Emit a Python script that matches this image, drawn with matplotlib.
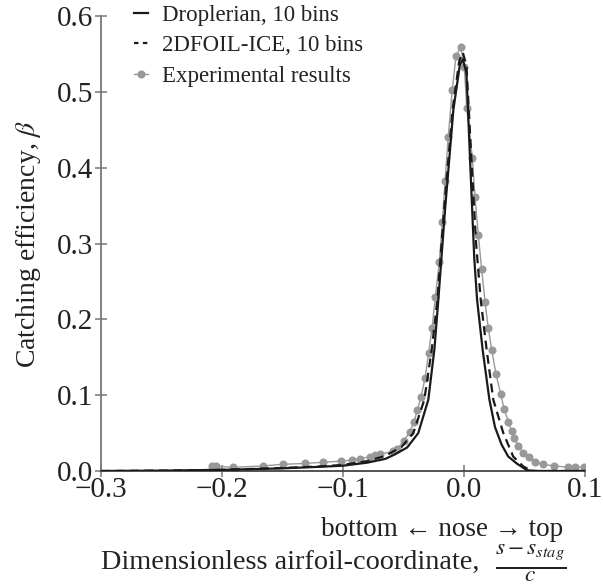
import matplotlib
matplotlib.use("Agg")
import matplotlib.pyplot as plt
from matplotlib.lines import Line2D

plt.rcParams['font.family'] = ['Liberation Serif', 'DejaVu Serif']
plt.rcParams['mathtext.fontset'] = 'stix'

# Droplerian, 10 bins
x_drop = [-0.30, -0.25, -0.20, -0.15, -0.12, -0.10, -0.08, -0.065, -0.057, -0.047,
          -0.0378, -0.0295, -0.0245, -0.0212, -0.0157, -0.0088, -0.0035, -0.0010,
          0.0020, 0.0064, 0.0085, 0.0108, 0.0154, 0.0210, 0.0256, 0.0310, 0.0366,
          0.0435, 0.0520, 0.0600, 0.1000]
y_drop = [0.000, 0.0005, 0.0015, 0.0035, 0.0055, 0.007, 0.011, 0.016, 0.022, 0.031,
          0.050, 0.094, 0.160, 0.226, 0.344, 0.476, 0.535, 0.543,
          0.525, 0.358, 0.280, 0.226, 0.160, 0.094, 0.058, 0.035, 0.019,
          0.010, 0.001, 0.000, 0.000]

# 2DFOIL-ICE, 10 bins
x_foil = [-0.30, -0.25, -0.20, -0.15, -0.12, -0.10, -0.08, -0.065, -0.0515, -0.0419,
          -0.0328, -0.0267, -0.0220, -0.0165, -0.0095, -0.0040, -0.0010, 0.0020,
          0.0065, 0.0100, 0.0138, 0.0187, 0.0242, 0.0325, 0.0407, 0.0490, 0.0560, 0.1000]
y_foil = [0.000, 0.0005, 0.0015, 0.004, 0.006, 0.008, 0.013, 0.020, 0.032, 0.050,
          0.094, 0.160, 0.226, 0.344, 0.476, 0.540, 0.552, 0.535,
          0.400, 0.300, 0.226, 0.160, 0.094, 0.050, 0.019, 0.006, 0.000, 0.000]

# Experimental results
x_exp = [-0.2085, -0.205, -0.1907, -0.1664, -0.150, -0.1314, -0.1168, -0.1017, -0.0928,
         -0.086, -0.0777, -0.0736, -0.0694, -0.059, -0.0556, -0.0496, -0.0446, -0.0413,
         -0.0386, -0.0355, -0.0322, -0.0292, -0.0264, -0.0237, -0.0204, -0.0179, -0.0157,
         -0.013, -0.0097, -0.0066, -0.0027, 0.0003, 0.0022, 0.0069, 0.0091, 0.0118,
         0.0146, 0.0174, 0.0201, 0.0229, 0.0264, 0.0303, 0.0331, 0.0366, 0.0394, 0.0413,
         0.0449, 0.049, 0.054, 0.0587, 0.065, 0.0744, 0.0862, 0.0917, 0.0994]
y_exp = [0.0066, 0.006, 0.005, 0.0066, 0.0088, 0.010, 0.0115, 0.013, 0.0145,
         0.016, 0.019, 0.021, 0.022, 0.026, 0.0286, 0.040, 0.052, 0.065,
         0.080, 0.098, 0.122, 0.156, 0.189, 0.229, 0.276, 0.328, 0.382,
         0.441, 0.503, 0.547, 0.559, 0.533, 0.479, 0.413, 0.361, 0.311,
         0.266, 0.223, 0.188, 0.160, 0.128, 0.102, 0.082, 0.065, 0.053, 0.043,
         0.033, 0.024, 0.018, 0.012, 0.009, 0.0066, 0.005, 0.005, 0.0057]

x_ticks = [-0.3, -0.2, -0.1, 0.0, 0.1]
y_ticks = [0.0, 0.1, 0.2, 0.3, 0.4, 0.5, 0.6]

fig = plt.figure(figsize=(6.03, 5.86), dpi=100)
ax = fig.add_axes([101/603, 1-471/586, 484/603, 455/586])

grey = '#999999'
txt = '#222222'
ax.plot(x_exp, y_exp, color=grey, lw=1.0, marker='o', ms=4.8, mec=grey, mfc=grey,
        label='Experimental results', zorder=2)
ax.plot(x_foil, y_foil, color='#1a1a1a', lw=1.6, ls=(0, (4, 2.5)),
        label='2DFOIL-ICE, 10 bins', zorder=3)
ax.plot(x_drop, y_drop, color='#1a1a1a', lw=1.6, label='Droplerian, 10 bins', zorder=4)

ax.set_xlim(-0.3, 0.1)
ax.set_ylim(0.0, 0.6)
ax.set_xticks(x_ticks)
ax.set_yticks(y_ticks)
ax.set_xticklabels([f"{v:.1f}".replace('-', '\u2212') for v in x_ticks])
ax.set_yticklabels([f"{v:.1f}" for v in y_ticks])

for s in ['top', 'right']:
    ax.spines[s].set_visible(False)
ax.spines['left'].set_color('#777777')
ax.spines['left'].set_linewidth(1.3)
ax.spines['bottom'].set_color('#444444')
ax.spines['bottom'].set_linewidth(1.3)
ax.tick_params(direction='inout', length=9, width=1.1, color='#777777',
               labelsize=21, pad=1, labelcolor=txt)
ax.tick_params(axis='x', pad=0)

ax.set_ylabel(r'Catching efficiency, $\beta$', fontsize=20, color=txt, labelpad=10)

ax.text(0.705, -0.128, 'bottom \u2190 nose \u2192 top', transform=ax.transAxes,
        ha='center', va='center', fontsize=19.5, color=txt)
fig.text(101/603, 1-562/586, 'Dimensionless airfoil-coordinate,',
         ha='left', va='center', fontsize=20.3, color=txt)
fig.text(531/603, 1-563/586, r'$\frac{s-s_{stag}}{c}$',
         ha='center', va='center', fontsize=24, color=txt)

handles = [
    Line2D([], [], color='#1a1a1a', lw=1.6),
    Line2D([], [], color='#1a1a1a', lw=1.6, ls=(0, (2, 2))),
    Line2D([], [], color=grey, lw=1.0, marker='o', ms=4.8),
]
labels = ['Droplerian, 10 bins', '2DFOIL-ICE, 10 bins', 'Experimental results']
leg = ax.legend(handles, labels, loc='upper left', bbox_to_anchor=(0.05, 1.045),
                frameon=False, fontsize=16.5, handlelength=0.6, handletextpad=0.6,
                labelspacing=0.42, borderaxespad=0)
for t in leg.get_texts():
    t.set_color(txt)

fig.savefig('out.png', dpi=100)
